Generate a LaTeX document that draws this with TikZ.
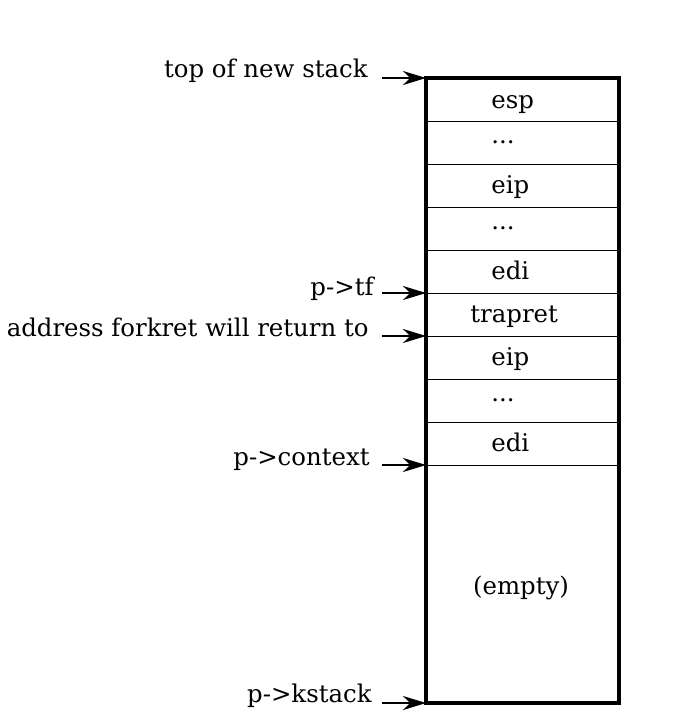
\documentclass[tikz,border=0pt]{standalone}
\usepackage{fontspec}
\setmainfont{DejaVu Serif}
\usetikzlibrary{arrows.meta}
\begin{document}
\begin{tikzpicture}[x=0.5pt,y=-0.5pt,
  cell/.style={draw, line width=0.5pt, minimum width=96.5pt, minimum height=21.5pt, inner sep=0pt, outer sep=0pt, anchor=north west},
  txt/.style={font=\fontsize{12.2}{14}\selectfont, inner sep=0pt},
  ptr/.style={-{Stealth[length=11.5pt,width=7pt,inset=3.6pt]}, line width=1.1pt}]
\useasboundingbox (0,0) rectangle (688,723);
% cells
\node[cell] (c1) at (426,78) {};
\node[cell] (c2) at (426,121) {};
\node[cell] (c3) at (426,164) {};
\node[cell] (c4) at (426,207) {};
\node[cell] (c5) at (426,250) {};
\node[cell] (c6) at (426,293) {};
\node[cell] (c7) at (426,336) {};
\node[cell] (c8) at (426,379) {};
\node[cell] (c9) at (426,422) {};
\node[cell, minimum height=119pt] (e) at (426,465) {};
\draw[line width=1.7pt] (c1.north west) rectangle (e.south east);
% cell texts
\node[txt, anchor=base west] (t1) at ([xshift=32.5pt,yshift=-4.3pt]c1.west) {esp};
\node[txt, anchor=base west] (t2) at ([xshift=32.5pt,yshift=-0.6pt]c2.west) {...};
\node[txt, anchor=base west] (t3) at ([xshift=32.5pt,yshift=-3.8pt]c3.west) {eip};
\node[txt, anchor=base west] (t4) at ([xshift=32.5pt,yshift=-0.6pt]c4.west) {...};
\node[txt, anchor=base west] (t5) at ([xshift=32.5pt,yshift=-3.8pt]c5.west) {edi};
\node[txt, anchor=base west] (t6) at ([xshift=22pt,yshift=-4pt]c6.west) {trapret};
\node[txt, anchor=base west] (t7) at ([xshift=32.5pt,yshift=-3.8pt]c7.west) {eip};
\node[txt, anchor=base west] (t8) at ([xshift=32.5pt,yshift=-0.6pt]c8.west) {...};
\node[txt, anchor=base west] (t9) at ([xshift=32.5pt,yshift=-3.8pt]c9.west) {edi};
\node[txt, anchor=base] (te) at (521,594) {(empty)};
% pointer labels
\node[txt, anchor=base east] (ltop) at (368,77) {top of new stack};
\node[txt, anchor=base east] (ltf) at (374,295) {p->tf};
\node[txt, anchor=base east] (lret) at (369,336) {address forkret will return to};
\node[txt, anchor=base east] (lctx) at (370,465) {p->context};
\node[txt, anchor=base east] (lks) at (372,702) {p->kstack};
% pointer arrows
\coordinate (s1) at (382,78);
\coordinate (s2) at (382,293);
\coordinate (s3) at (382,336);
\coordinate (s4) at (382,465);
\coordinate (s5) at (382,703);
\draw[ptr] (s1) -- (c1.north west);
\draw[ptr] (s2) -- (c6.north west);
\draw[ptr] (s3) -- (c7.north west);
\draw[ptr] (s4) -- (e.north west);
\draw[ptr] (s5) -- (e.south west);
\end{tikzpicture}
\end{document}
